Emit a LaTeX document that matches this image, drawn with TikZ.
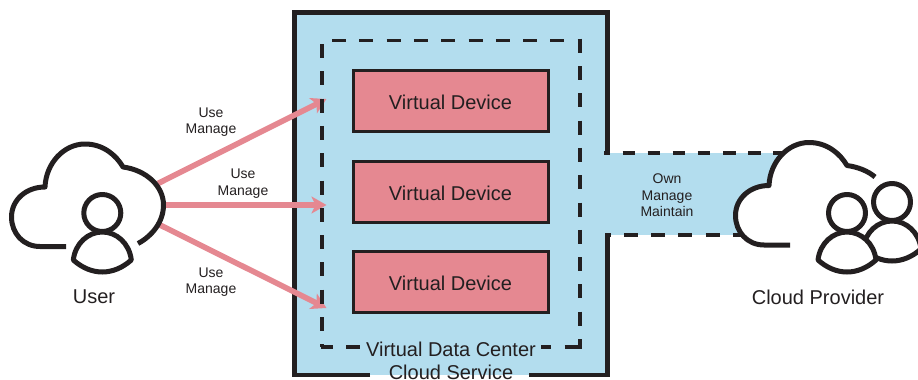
\documentclass[tikz,border=0pt]{standalone}
\usepackage{fontspec}
\setmainfont{Liberation Sans}
\usepackage{tikz}
\usetikzlibrary{positioning,arrows.meta}
\definecolor{cloudblue}{HTML}{B3DDEE}
\definecolor{devicepink}{HTML}{E58891}
\definecolor{inkblack}{HTML}{231F20}
\tikzset{
    >={Stealth[length=15pt,width=17pt,inset=4pt]},
    device/.style={draw=inkblack,fill=devicepink,line width=3pt,minimum width=195pt,minimum height=61pt,
        outer sep=0pt,inner sep=0pt,text=inkblack,text height=17pt,text depth=0pt,font=\fontsize{20}{22}\selectfont},
    bluearea/.style={fill=cloudblue,inner sep=0pt,outer sep=0pt},
    wall/.style={draw=inkblack,line width=4.6pt},
    dashline/.style={draw=inkblack,line width=3.4pt,dash pattern=on 14pt off 13.3pt},
    usearrow/.style={->,draw=devicepink,line width=5.6pt},
    icon/.style={draw=inkblack,line width=5pt,line join=round},
    smalllabel/.style={align=center,text=inkblack,font=\fontsize{14}{16.6}\selectfont,inner sep=0pt},
    biglabel/.style={text=inkblack,font=\fontsize{20}{22}\selectfont,inner sep=0pt},
}
\newcommand\personicon[2]{%
    \draw[icon,fill=white,shift={(#1,#2)}] (0,0) circle[radius=18.5pt];
    \draw[icon,fill=white,shift={(#1,#2)}] (-29,47) .. controls (-27,30) and (-14,19) .. (0,19)
        .. controls (14,19) and (27,30) .. (29,47)
        .. controls (20,55) and (10,59) .. (0,59)
        .. controls (-10,59) and (-20,55) .. (-29,47) -- cycle;}
\newcommand\cloudleft{%
    (66,246.5) -- (40,246.5) .. controls (23,246.5) and (11.5,233) .. (11.5,217)
        .. controls (11.5,200) and (26,187) .. (45,187)
        .. controls (46,163) and (64,144) .. (85,144)
        .. controls (103,144) and (116,155) .. (123,167)}
\begin{document}
\begin{tikzpicture}[x=1pt,y=-1pt]
    \useasboundingbox (0,0) rectangle (918,380);

    % blue areas
    \node[bluearea,minimum width=313pt,minimum height=362.5pt] (service) at (451,193.75) {};
    \node[bluearea,minimum width=185pt,minimum height=82.3pt] (link) at (697.5,193.85) {};

    % outer box, open at the link and at the caption
    \draw[wall] (370,375) -- (294.5,375) -- (294.5,12.5) -- (607.5,12.5) -- (607.5,153);
    \draw[wall] (607.5,233) -- (607.5,375) -- (529,375);

    % devices
    \node[device] at (450.5,100.5) (dev1) {Virtual Device};
    \node[device,below=30pt of dev1] (dev2) {Virtual Device};
    \node[device,below=29.5pt of dev2] (dev3) {Virtual Device};

    % arrows
    \coordinate (userout1) at (158,183.5);
    \coordinate (userout2) at (165,205);
    \coordinate (userout3) at (160,225);
    \coordinate (vdcin1) at (326.5,99);
    \coordinate (vdcin2) at (326.5,205);
    \coordinate (vdcin3) at (326.5,308);
    \path
      (userout1) edge[usearrow] (vdcin1)
      (userout2) edge[usearrow] (vdcin2)
      (userout3) edge[usearrow] (vdcin3);

    % virtual data center
    \draw[dashline] (332,40.3) -- (580,40.3);
    \draw[dashline] (580,38.7) -- (580,349);
    \draw[dashline] (322,44) -- (322,347);
    \draw[dashline,dash phase=2pt] (321,347) -- (582,347);

    % link to the provider
    \draw[dashline,line width=3.8pt,dash pattern=on 12.5pt off 12.6pt,dash phase=6.5pt] (604,152.7) -- (790,152.7);
    \draw[dashline,line width=3.8pt,dash phase=8.5pt] (605,235) -- (760,235);

    % texts
    \node[biglabel,fill=cloudblue,inner xsep=5pt,inner ysep=2pt] (vdclabel) at (451,349) {Virtual Data Center};
    \node[biglabel,anchor=base] (servicelabel) at (451,379.8) {Cloud Service};
    \node[smalllabel] (use1) at (211,122) {Use\\Manage};
    \node[smalllabel] (use2) at (243,183.5) {Use\\Manage};
    \node[smalllabel] (use3) at (211,282) {Use\\Manage};
    \node[smalllabel] (own) at (667,195.5) {Own\\Manage\\Maintain};
    \node[biglabel] (user) at (94,296.5) {User};
    \node[biglabel] (provider) at (818,297) {Cloud Provider};

    % user icon
    \draw[icon] \cloudleft
        .. controls (146,170) and (163.5,186) .. (163.5,205)
        .. controls (163.5,222) and (152,236) .. (138,243.5);
    \personicon{102.3}{213}

    % provider icon
    \draw[icon,fill=white,shift={(724,-1.5)}] \cloudleft
        .. controls (134,168.5) and (144,172.5) .. (151,178.5);
    \personicon{892}{202}
    \personicon{847}{213}
\end{tikzpicture}
\end{document}
